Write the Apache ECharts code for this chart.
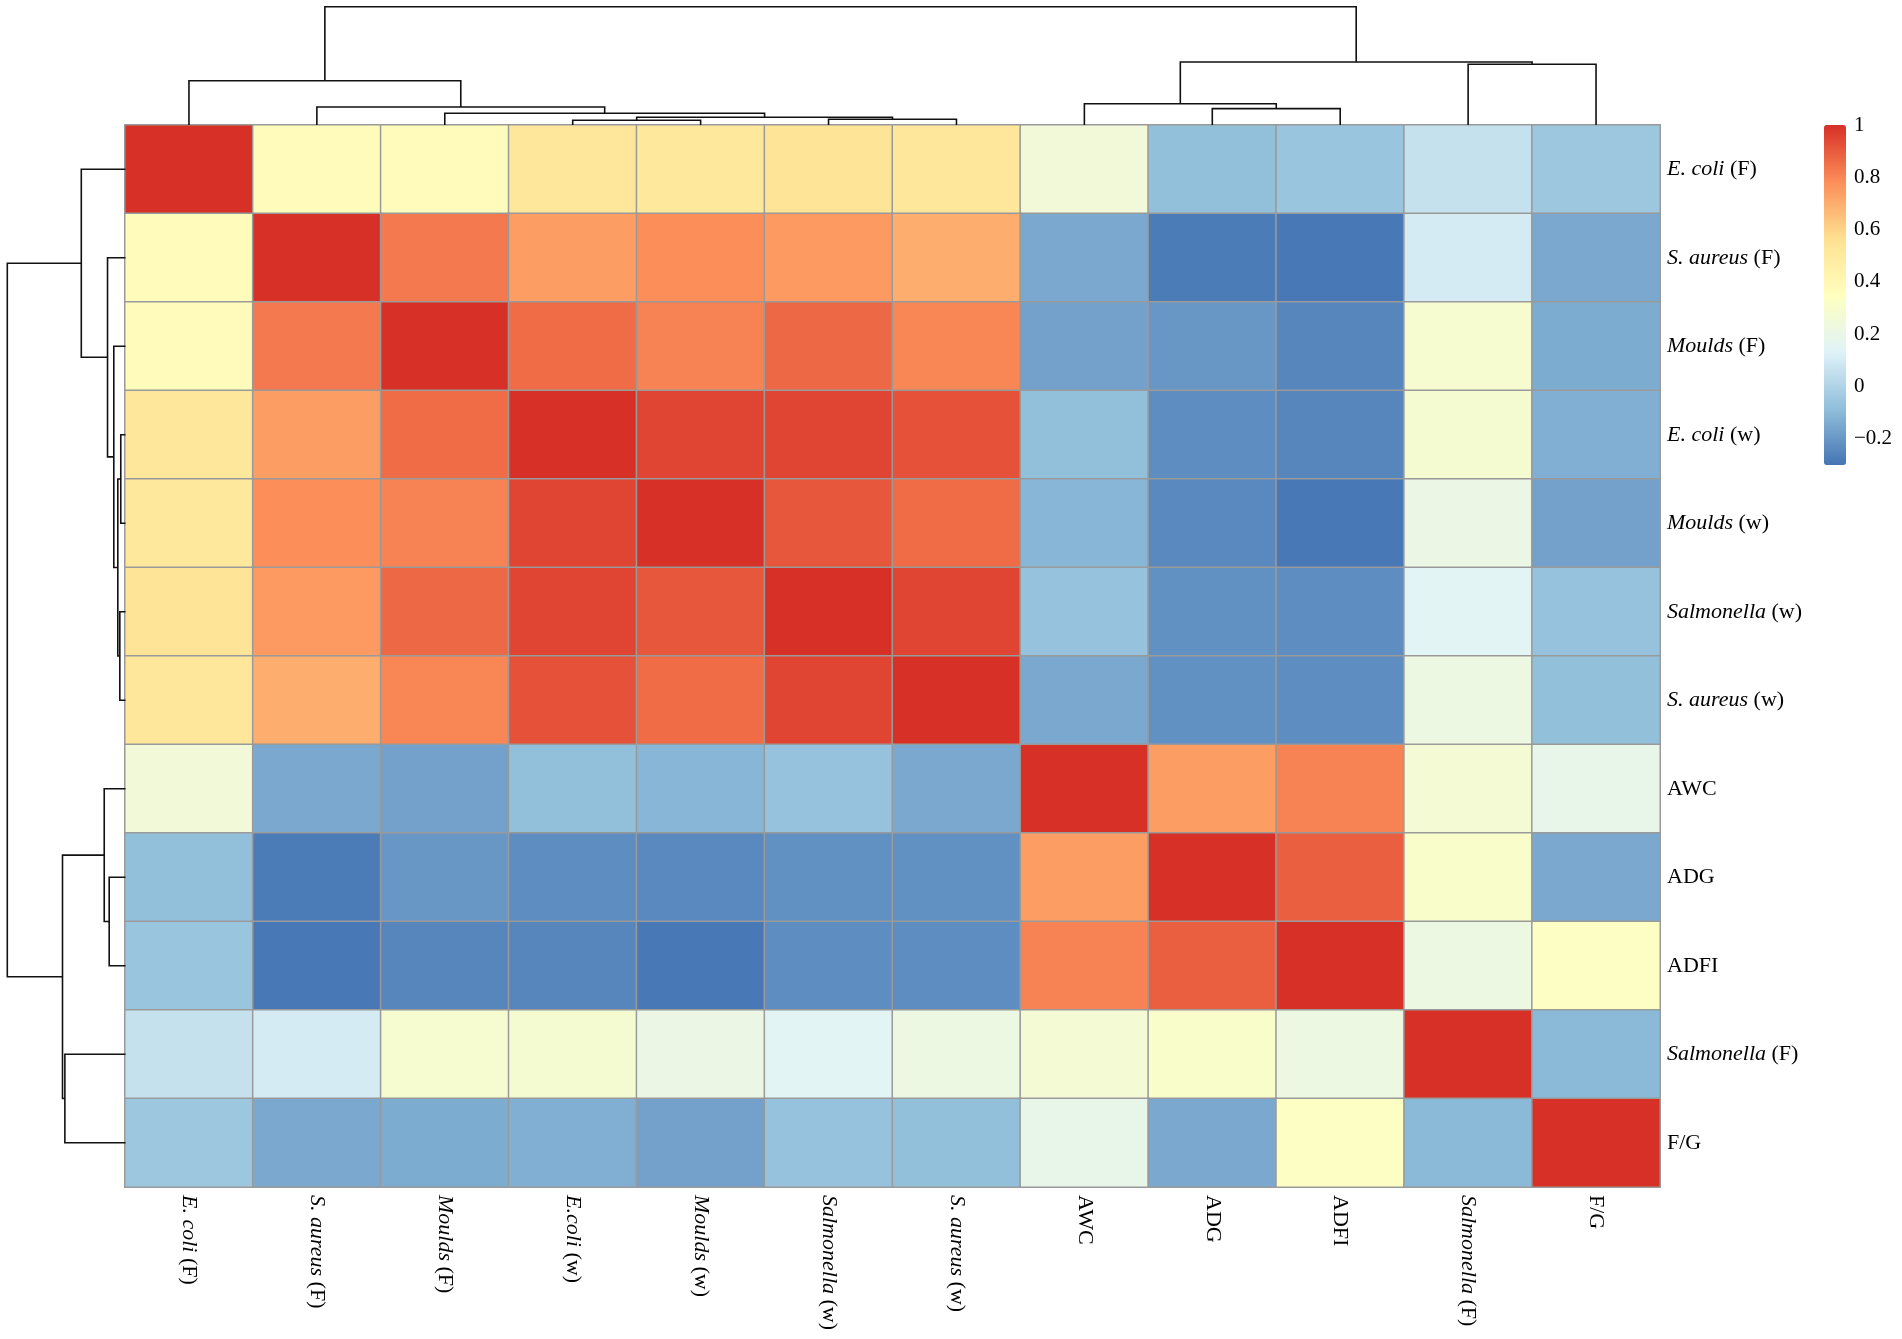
<!DOCTYPE html>
<html>
	<head>
		<meta charset="UTF-8">
		<title>Correlation heatmap</title>
		<style>
			html, body { margin: 0; padding: 0; background: #fff; }
			#heat-char { width: 1902px; height: 1339px; }
		</style>
		<script type="text/javascript" src="https://cdn.jsdelivr.net/npm/echarts@6.0.0/dist/echarts.min.js"></script>
	</head>
	<body>
		<div id="heat-char"></div>
	</body>
</html>
<script type="text/javascript">
	// row / column order after clustering
	var rowLabels = ['E. coli (F)', 'S. aureus (F)', 'Moulds (F)', 'E. coli (w)', 'Moulds (w)', 'Salmonella (w)', 'S. aureus (w)', 'AWC', 'ADG', 'ADFI', 'Salmonella (F)', 'F/G'];
	var colLabels = ['E. coli (F)', 'S. aureus (F)', 'Moulds (F)', 'E.coli (w)', 'Moulds (w)', 'Salmonella (w)', 'S. aureus (w)', 'AWC', 'ADG', 'ADFI', 'Salmonella (F)', 'F/G'];

	// correlation values, one array per row
	var r0  = [1, 0.37, 0.37, 0.52, 0.51, 0.54, 0.52, 0.25, -0.08, -0.06, 0.06, -0.05];
	var r1  = [0.37, 1, 0.83, 0.74, 0.78, 0.75, 0.70, -0.15, -0.28, -0.29, 0.10, -0.15];
	var r2  = [0.37, 0.83, 1, 0.86, 0.81, 0.87, 0.80, -0.17, -0.20, -0.25, 0.29, -0.14];
	var r3  = [0.52, 0.74, 0.86, 1, 0.95, 0.95, 0.92, -0.08, -0.23, -0.25, 0.28, -0.13];
	var r4  = [0.51, 0.78, 0.81, 0.95, 1, 0.91, 0.86, -0.11, -0.24, -0.29, 0.21, -0.17];
	var r5  = [0.54, 0.75, 0.87, 0.95, 0.91, 1, 0.95, -0.07, -0.22, -0.23, 0.15, -0.07];
	var r6  = [0.52, 0.70, 0.80, 0.92, 0.86, 0.95, 1, -0.15, -0.22, -0.23, 0.22, -0.08];
	var r7  = [0.25, -0.15, -0.17, -0.08, -0.11, -0.07, -0.15, 1, 0.74, 0.81, 0.27, 0.19];
	var r8  = [-0.08, -0.28, -0.20, -0.23, -0.24, -0.22, -0.22, 0.74, 1, 0.89, 0.31, -0.15];
	var r9  = [-0.06, -0.29, -0.25, -0.25, -0.29, -0.23, -0.23, 0.81, 0.89, 1, 0.22, 0.33];
	var r10 = [0.06, 0.10, 0.29, 0.28, 0.21, 0.15, 0.22, 0.27, 0.31, 0.22, 1, -0.10];
	var r11 = [-0.05, -0.15, -0.14, -0.13, -0.17, -0.07, -0.08, 0.19, -0.15, 0.33, -0.10, 1];
	var rows = [r0, r1, r2, r3, r4, r5, r6, r7, r8, r9, r10, r11];

	// hclust merges: [a, b, height]; index >= 12 means merge (index - 12)
	var merges = [
		[3, 4, 0.040],
		[5, 6, 0.048],
		[12, 13, 0.065],
		[2, 14, 0.099],
		[1, 15, 0.152],
		[0, 16, 0.374],
		[8, 9, 0.138],
		[7, 18, 0.180],
		[10, 11, 0.513],
		[19, 20, 0.533],
		[17, 21, 1.0]
	];

	// colour bar
	var scaleMin = -0.3;
	var scaleMax = 1;
	var scaleTicks = [-0.2, 0, 0.2, 0.4, 0.6, 0.8, 1];
	var palette = ['#4575b4', '#91bfdb', '#e0f3f8', '#ffffbf', '#fee090', '#fc8d59', '#d73027'];

	var FONT = '"Liberation Serif", "Times New Roman", serif';

	$ready();

	function $ready(){
		var chart = echarts.init(document.getElementById('heat-char'));

		var heatData = [];
		rows.forEach(function(r, i){
			r.forEach(function(v, j){
				heatData.push([j, i, v]);
			});
		});

		// dendrogram segments built from the merge table
		var n = rowLabels.length;
		var pos = [], hgt = [], segs = [];
		for (var i = 0; i < n; i++) { pos[i] = i + 0.5; hgt[i] = 0; }
		merges.forEach(function(m, k){
			var a = m[0], b = m[1];
			segs.push([pos[a], hgt[a], pos[b], hgt[b], m[2]]);
			pos[n + k] = (pos[a] + pos[b]) / 2;
			hgt[n + k] = m[2];
		});

		function treeItem(side){
			return function(params, api){
				var p1 = api.value(0), h1 = api.value(1), p2 = api.value(2), h2 = api.value(3), h = api.value(4);
				var raw = side === 'top'
					? [[p1, h1], [p1, h], [p2, h], [p2, h2]]
					: [[h1, p1], [h, p1], [h, p2], [h2, p2]];
				var pts = [];
				for (var q = 0; q < raw.length; q++) pts.push(api.coord(raw[q]));
				return {
					type: 'polyline',
					shape: { points: pts },
					style: { stroke: '#111', lineWidth: 1.6, fill: 'none' }
				};
			};
		}

		function speciesLabel(s){
			var k = s.indexOf(' (');
			if (k < 0) return '{n|' + s + '}';
			return '{i|' + s.slice(0, k) + '} {n|' + s.slice(k + 1) + '}';
		}
		var rich = {
			i: { fontFamily: FONT, fontStyle: 'italic', fontSize: 22, color: '#000' },
			n: { fontFamily: FONT, fontSize: 22, color: '#000' }
		};

		var options = {
			animation: false,
			backgroundColor: '#fff',
			grid: [
				{ left: 125, top: 125, width: 1535, height: 1062 },   // heatmap
				{ left: 125, top: 6.7, width: 1535, height: 118.3 },  // column tree
				{ left: 7.3, top: 125, width: 118.2, height: 1062 },  // row tree
				{ left: 1824, top: 125, width: 22, height: 340 }      // legend labels
			],
			xAxis: [
				{
					type: 'category', gridIndex: 0, data: colLabels, position: 'bottom',
					axisLine: { show: false }, axisTick: { show: false }, splitLine: { show: false },
					axisLabel: { rotate: -90, margin: 8, interval: 0, fontFamily: FONT, fontSize: 22, color: '#000', formatter: speciesLabel, rich: rich }
				},
				{ type: 'value', gridIndex: 1, min: 0, max: 12, show: false },
				{ type: 'value', gridIndex: 2, min: 0, max: 1, inverse: true, show: false },
				{ type: 'value', gridIndex: 3, min: 0, max: 1, show: false }
			],
			yAxis: [
				{
					type: 'category', gridIndex: 0, data: rowLabels, inverse: true, position: 'right',
					axisLine: { show: false }, axisTick: { show: false }, splitLine: { show: false },
					axisLabel: { margin: 7, interval: 0, fontFamily: FONT, fontSize: 22, color: '#000', formatter: speciesLabel, rich: rich }
				},
				{ type: 'value', gridIndex: 1, min: 0, max: 1, show: false },
				{ type: 'value', gridIndex: 2, min: 0, max: 12, inverse: true, show: false },
				{
					type: 'value', gridIndex: 3, min: scaleMin, max: scaleMax, position: 'right',
					axisLine: { show: false }, axisTick: { show: false }, splitLine: { show: false },
					axisLabel: {
						customValues: scaleTicks, margin: 8, fontFamily: FONT, fontSize: 21, color: '#000',
						formatter: function(v){ return String(Math.round(v * 10) / 10).replace('-', '\u2212'); }
					}
				}
			],
			visualMap: {
				type: 'continuous',
				seriesIndex: 0,
				dimension: 2,
				min: scaleMin,
				max: scaleMax,
				orient: 'vertical',
				left: 1824,
				top: 125,
				itemWidth: 22,
				itemHeight: 340,
				padding: 0,
				calculable: false,
				hoverLink: false,
				inRange: { color: palette }
			},
			series: [
				{
					type: 'heatmap',
					xAxisIndex: 0,
					yAxisIndex: 0,
					data: heatData,
					itemStyle: { borderColor: '#9a9a9a', borderWidth: 1.5 },
					emphasis: { disabled: true }
				},
				{
					type: 'custom', xAxisIndex: 1, yAxisIndex: 1, clip: false, silent: true,
					renderItem: treeItem('top'), data: segs
				},
				{
					type: 'custom', xAxisIndex: 2, yAxisIndex: 2, clip: false, silent: true,
					renderItem: treeItem('left'), data: segs
				}
			]
		};
		chart.setOption(options);
	}
</script>
